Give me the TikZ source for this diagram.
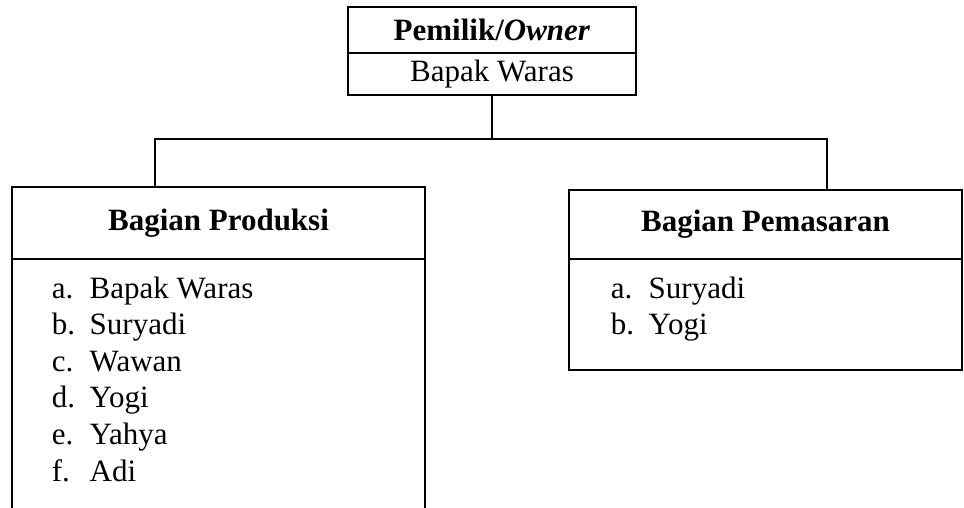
\documentclass[tikz,border=0pt]{standalone}
\usepackage{fontspec}
\setmainfont{Liberation Serif}
\begin{document}
\begin{tikzpicture}[x=1pt,y=-1pt,line width=1.5pt,
  boxcell/.style={draw,rectangle,inner sep=0pt,outer sep=0pt},
  txt/.style={font=\fontsize{31}{36.6}\selectfont}]
\useasboundingbox (0,0) rectangle (964,508);
\begin{scope}
\clip (0,0) rectangle (964,508);
% Owner box
\node[boxcell,txt,minimum width=288pt,minimum height=46pt] (ownerhead) at (492,30) {\textbf{Pemilik/\textit{Owner}}};
\node[boxcell,txt,minimum width=288pt,minimum height=42pt,anchor=north] (ownername) at (ownerhead.south) {Bapak Waras};
% Produksi box
\node[boxcell,txt,minimum width=413pt,minimum height=72pt] (prodhead) at (218.5,223) {\textbf{Bagian Produksi}};
\node[boxcell,minimum width=413pt,minimum height=280pt,anchor=north] (prodbody) at (prodhead.south) {};
\node[txt,anchor=base west,inner sep=0pt] (prodlist) at (51,298) {\begin{tabular}[t]{@{}p{38pt}@{}l@{}}
a. & Bapak Waras\\
b. & Suryadi\\
c. & Wawan\\
d. & Yogi\\
e. & Yahya\\
f. & Adi
\end{tabular}};
% Pemasaran box
\node[boxcell,txt,minimum width=393pt,minimum height=69pt] (pemhead) at (765.5,224.5) {\textbf{Bagian Pemasaran}};
\node[boxcell,minimum width=393pt,minimum height=111pt,anchor=north] (pembody) at (pemhead.south) {};
\node[txt,anchor=base west,inner sep=0pt] (pemlist) at (610,298) {\begin{tabular}[t]{@{}p{38pt}@{}l@{}}
a. & Suryadi\\
b. & Yogi
\end{tabular}};
% connectors
\coordinate (pl) at (155,139);
\coordinate (pr) at (827,139);
\draw (ownername.south) -- (ownername.south |- pl);
\draw (prodhead.north -| pl) -- (pl) -- (pr) -- (pemhead.north -| pr);
\end{scope}
\end{tikzpicture}
\end{document}
